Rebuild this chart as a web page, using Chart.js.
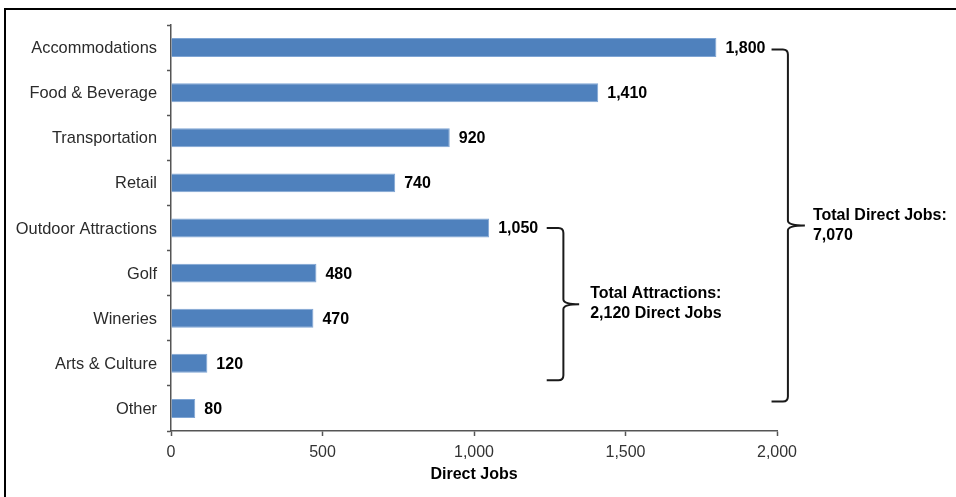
<!DOCTYPE html>
<html>
<head>
<meta charset="utf-8">
<script src="https://cdn.jsdelivr.net/npm/chart.js@4.4.1/dist/chart.umd.min.js"></script>
<style>
  html, body { margin: 0; padding: 0; background: #fff; }
  #wrap { position: relative; width: 956px; height: 497px; }
</style>
</head>
<body>
<div id="wrap"><canvas id="c" width="956" height="497"></canvas></div>
<script>
// ---- Data ----
const categories = ["Accommodations", "Food & Beverage", "Transportation", "Retail",
  "Outdoor Attractions", "Golf", "Wineries", "Arts & Culture", "Other"];
const directJobs = [1800, 1410, 920, 740, 1050, 480, 470, 120, 80];
const axisTitle = "Direct Jobs";
const attractionsLabel = ["Total Attractions:", "2,120 Direct Jobs"];
const totalLabel = ["Total Direct Jobs:", "7,070"];

const FONT = "'Liberation Sans', Arial, Helvetica, sans-serif";

const fmt = v => v.toLocaleString('en-US');

// Value labels + curly brackets + frame
const annotPlugin = {
  id: 'annot',
  afterDatasetsDraw(chart) {
    const ctx = chart.ctx;
    const meta = chart.getDatasetMeta(0);
    const xs = chart.scales.x, ys = chart.scales.y;
    ctx.save();
    ctx.fillStyle = '#000';
    ctx.font = "bold 16px " + FONT;
    ctx.textBaseline = 'middle';
    ctx.textAlign = 'left';
    meta.data.forEach((bar, i) => {
      ctx.fillText(fmt(directJobs[i]), bar.x + 9, bar.y + 1);
    });

    function brace(xStart, xv, xTip, yTop, yBot) {
      const r = 5;
      const yMid = (yTop + yBot) / 2;
      ctx.beginPath();
      ctx.moveTo(xStart, yTop);
      ctx.lineTo(xv - r, yTop);
      ctx.quadraticCurveTo(xv, yTop, xv, yTop + r);
      ctx.lineTo(xv, yMid - r);
      ctx.quadraticCurveTo(xv, yMid, xTip, yMid);
      ctx.quadraticCurveTo(xv, yMid, xv, yMid + r);
      ctx.lineTo(xv, yBot - r);
      ctx.quadraticCurveTo(xv, yBot, xv - r, yBot);
      ctx.lineTo(xStart, yBot);
      ctx.strokeStyle = '#1a1a1a';
      ctx.lineWidth = 2;
      ctx.stroke();
      return yMid;
    }

    // Attractions bracket (Outdoor Attractions .. Arts & Culture)
    const aTop = ys.getPixelForValue(4) ;
    const aBot = ys.getPixelForValue(7) + 17;
    const aX0 = xs.getPixelForValue(1240);
    const aXv = xs.getPixelForValue(1295);
    const aTip = xs.getPixelForValue(1347);
    const aMid = brace(aX0, aXv, aTip, aTop, aBot);
    ctx.fillStyle = '#000';
    ctx.font = "bold 16px " + FONT;
    ctx.textAlign = 'left';
    ctx.fillText(attractionsLabel[0], aTip + 11, aMid - 11);
    ctx.fillText(attractionsLabel[1], aTip + 11, aMid + 9);

    // Total bracket (all categories)
    const tTop = ys.getPixelForValue(0) + 2;
    const tBot = ys.getPixelForValue(8) - 7;
    const tX0 = xs.getPixelForValue(1982);
    const tXv = xs.getPixelForValue(2036);
    const tTip = xs.getPixelForValue(2092);
    const tMid = brace(tX0, tXv, tTip, tTop, tBot);
    ctx.fillText(totalLabel[0], tTip + 8, tMid - 10);
    ctx.fillText(totalLabel[1], tTip + 8, tMid + 10);

    // outer frame
    ctx.strokeStyle = '#000';
    ctx.lineWidth = 2;
    ctx.strokeRect(5, 9, 1000, 1000);
    ctx.restore();
  }
};

new Chart(document.getElementById('c'), {
  type: 'bar',
  data: {
    labels: categories,
    datasets: [{
      data: directJobs,
      backgroundColor: '#4F81BD',
      borderColor: '#7FA5D4',
      borderWidth: 1,
      borderSkipped: 'left',
      barPercentage: 0.42,
      categoryPercentage: 1.0
    }]
  },
  options: {
    indexAxis: 'y',
    responsive: false,
    animation: false,
    devicePixelRatio: 1,
    layout: { padding: { top: 25, right: 179, left: 0, bottom: 0 } },
    plugins: { legend: { display: false }, tooltip: { enabled: false } },
    scales: {
      y: {
        type: 'category',
        offset: true,
        afterFit(scale) { scale.width = 171; },
        grid: {
          offset: true,
          drawOnChartArea: false,
          drawTicks: true,
          tickLength: 4,
          tickColor: '#555',
          tickWidth: 1.5
        },
        border: { display: true, color: '#555', width: 1.5 },
        ticks: {
          color: '#2b2b2b',
          padding: 10,
          labelOffset: 1,
          font: { family: FONT, size: 16.4 }
        }
      },
      x: {
        type: 'linear',
        min: 0,
        max: 2000,
        afterFit(scale) { scale.height = 66; },
        grid: {
          drawOnChartArea: false,
          drawTicks: true,
          tickLength: 5,
          tickColor: '#555',
          tickWidth: 1.5
        },
        border: { display: true, color: '#555', width: 1.5 },
        ticks: {
          stepSize: 500,
          color: '#333',
          padding: 7,
          font: { family: FONT, size: 16 },
          callback: v => fmt(v)
        },
        title: {
          display: true,
          text: axisTitle,
          color: '#000',
          padding: { top: 2, bottom: 13 },
          font: { family: FONT, size: 16, weight: 'bold' }
        }
      }
    }
  },
  plugins: [annotPlugin]
});
</script>
</body>
</html>
